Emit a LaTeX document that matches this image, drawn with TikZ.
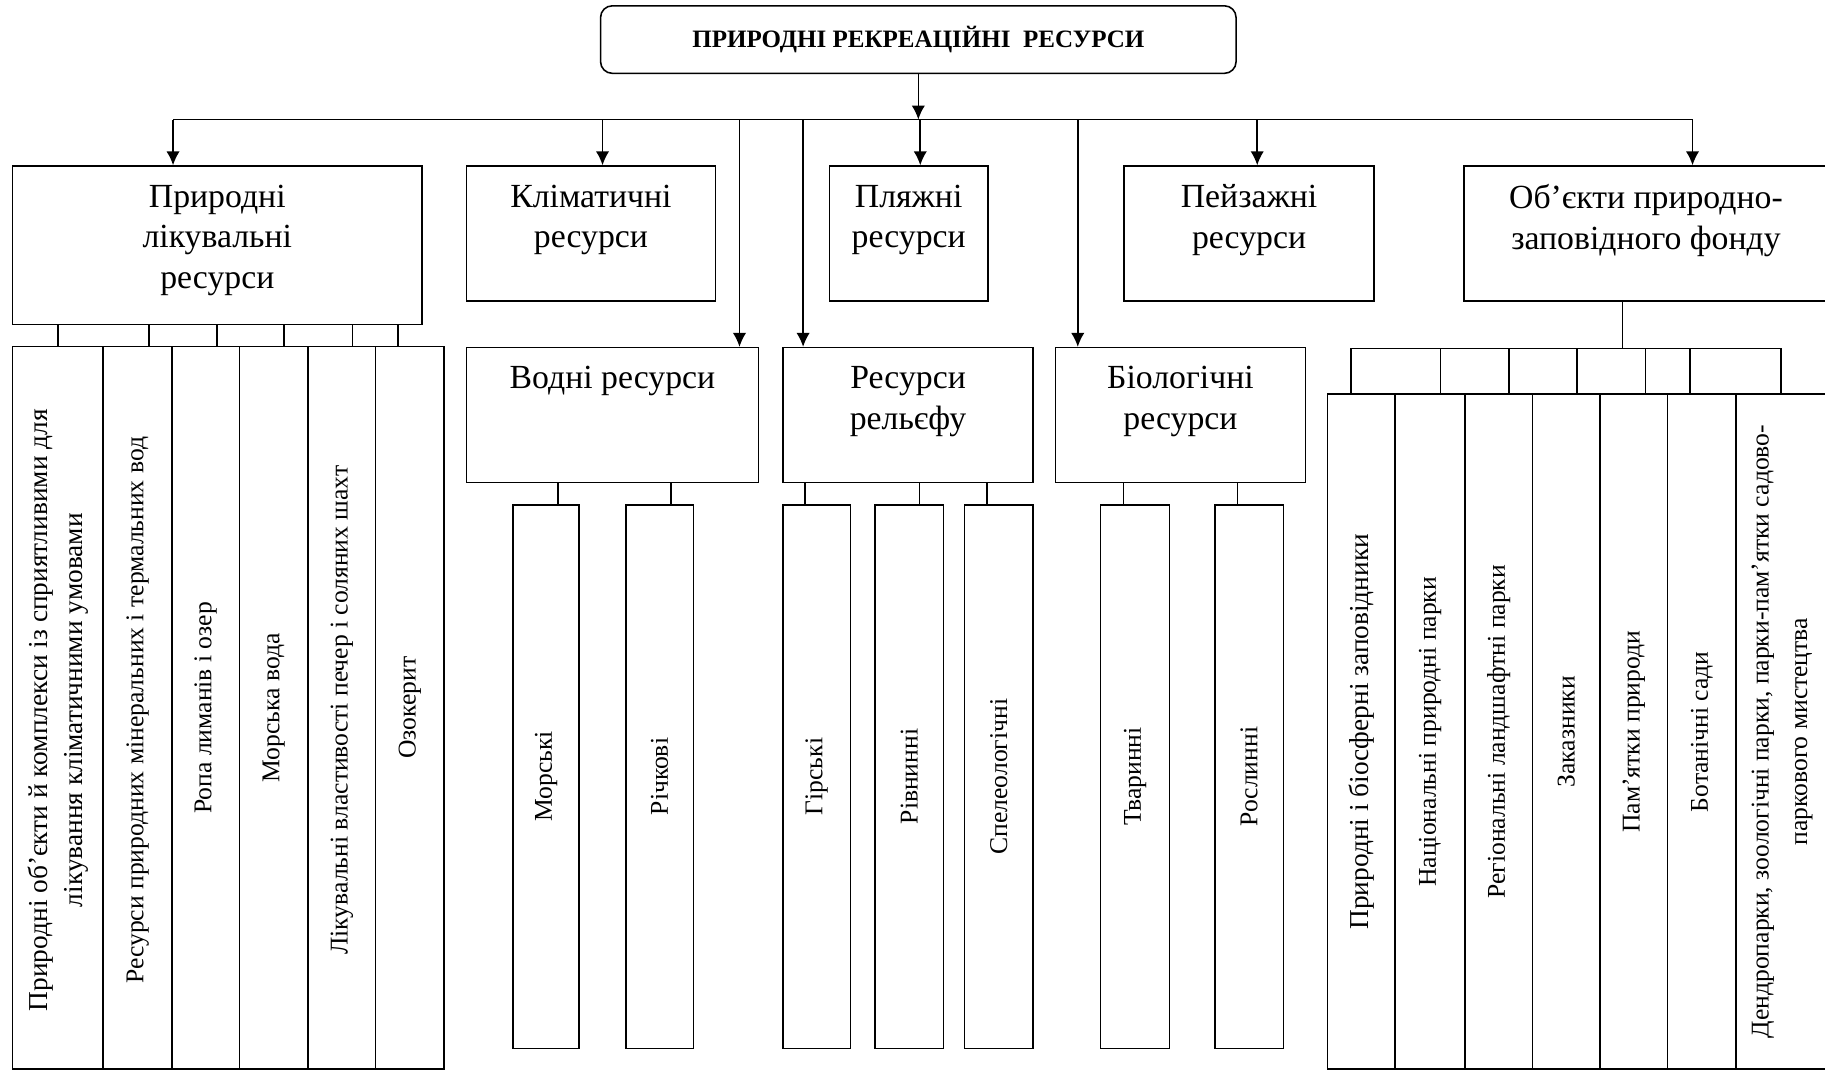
\documentclass[tikz,border=0pt]{standalone}
\usepackage{fontspec}
\setmainfont{Liberation Serif}
\usetikzlibrary{positioning,calc,arrows.meta}
\tikzset{
title/.style = {draw, rectangle, rounded corners=10pt, align=center, font=\fontsize{21.5}{25}\selectfont\bfseries},
block/.style = {draw, rectangle, anchor=north west, inner sep=0pt},
btext/.style = {anchor=north, align=center, inner sep=0pt, font=\fontsize{29}{35}\selectfont},
col/.style = {draw, rectangle, anchor=north west, inner sep=0pt},
vtext/.style = {rotate=90, align=center, inner sep=0pt, font=\fontsize{22}{30}\selectfont},
vbig/.style = {vtext, font=\fontsize{23.5}{30}\selectfont}
}

\begin{document}
\begin{tikzpicture}[x=1pt, y=-1pt, line width=1.35pt, >={Latex[length=12pt,width=11.5pt]}]
    \useasboundingbox (0,0) rectangle (1568,921);

    \node [title, minimum width=546pt, minimum height=58pt] (top) at (789,34) {ПРИРОДНІ РЕКРЕАЦІЙНІ\ \ РЕСУРСИ};
    \coordinate (hub) at ([yshift=-39pt]top.south);

    % first row
    \node [block, minimum width=352pt, minimum height=136pt] (nat) at (10,142) {};
    \node [block, minimum width=214pt, minimum height=116pt] (klim) at (400,142) {};
    \node [block, minimum width=136pt, minimum height=116pt] (plyazh) at (712,142) {};
    \node [block, minimum width=215pt, minimum height=116pt] (peyz) at (965,142) {};
    \node [block, minimum width=313pt, minimum height=116pt] (zapov) at (1257,142) {};
    \node [btext] (natT) at ([yshift=-16pt]nat.north) {Природні\\лікувальні\\ресурси};
    \node [btext] (klimT) at ([yshift=-16pt]klim.north) {Кліматичні\\ресурси};
    \node [btext] (plyazhT) at ([yshift=-16pt]plyazh.north) {Пляжні\\ресурси};
    \node [btext] (peyzT) at ([yshift=-16pt]peyz.north) {Пейзажні\\ресурси};
    \node [btext] (zapovT) at ([yshift=-16pt]zapov.north) {Об’єкти природно-\\заповідного фонду};

    % second row
    \node [block, minimum width=251pt, minimum height=116pt] (vodni) at (400,298) {};
    \node [block, minimum width=215pt, minimum height=116pt] (relief) at (672,298) {};
    \node [block, minimum width=215pt, minimum height=116pt] (bio) at (906,298) {};
    \node [btext] (vodniT) at ([yshift=-16pt]vodni.north) {Водні ресурси};
    \node [btext] (reliefT) at ([yshift=-16pt]relief.north) {Ресурси\\рельєфу};
    \node [btext] (bioT) at ([yshift=-16pt]bio.north) {Біологічні\\ресурси};

    % arrows from the top
    \draw[->] (top.south) -- (hub);
    \coordinate (d1) at ([xshift=-38pt]nat.north);
    \coordinate (d2) at ([xshift=10pt]klim.north);
    \coordinate (d3) at ([xshift=-17pt]vodni.north east);
    \coordinate (d4) at ([xshift=18pt]relief.north west);
    \coordinate (d5) at ([xshift=10pt]plyazh.north);
    \coordinate (d6) at ([xshift=20pt]bio.north west);
    \coordinate (d7) at ([xshift=7pt]peyz.north);
    \coordinate (d8) at ([xshift=40pt]zapov.north);
    \draw (d1 |- hub) -- (d8 |- hub);
    \draw[->] (d1 |- hub) -- (d1);
    \draw[->] (d2 |- hub) -- (d2);
    \draw[->] (d3 |- hub) -- (d3);
    \draw[->] (d4 |- hub) -- (d4);
    \draw[->] (d5 |- hub) -- (d5);
    \draw[->] (d6 |- hub) -- (d6);
    \draw[->] (d7 |- hub) -- (d7);
    \draw[->] (d8 |- hub) -- (d8);

    % healing resources
    \node [col, minimum width=78pt, minimum height=621pt] (nat1) at (10,297) {};
    \node [col, minimum width=59pt, minimum height=621pt] (nat2) at (88,297) {};
    \node [col, minimum width=58pt, minimum height=621pt] (nat3) at (147,297) {};
    \node [col, minimum width=59pt, minimum height=621pt] (nat4) at (205,297) {};
    \node [col, minimum width=58pt, minimum height=621pt] (nat5) at (264,297) {};
    \node [col, minimum width=59pt, minimum height=621pt] (nat6) at (322,297) {};
    \node [vbig] (nat1T) at ([yshift=-2pt]nat1.center) {Природні об’єкти й комплекси із сприятливими для\\лікування кліматичними умовами};
    \node [vtext] (nat2T) at ([yshift=-2pt]nat2.center) {Ресурси природних мінеральних і термальних вод};
    \node [vtext] (nat3T) at (nat3.center) {Ропа лиманів і озер};
    \node [vtext] (nat4T) at (nat4.center) {Морська вода};
    \node [vtext] (nat5T) at ([yshift=-2pt]nat5.center) {Лікувальні властивості печер і соляних шахт};
    \node [vtext] (nat6T) at (nat6.center) {Озокерит};
    \draw (nat1.north) -- (nat1.north |- nat.south);
    \draw ([xshift=10pt]nat2.north) coordinate (t2) -- (t2 |- nat.south);
    \draw ([xshift=10pt]nat3.north) coordinate (t3) -- (t3 |- nat.south);
    \draw ([xshift=9pt]nat4.north) coordinate (t4) -- (t4 |- nat.south);
    \draw ([xshift=9pt]nat5.north) coordinate (t5) -- (t5 |- nat.south);
    \draw ([xshift=-10pt]nat6.north) coordinate (t6) -- (t6 |- nat.south);

    % water, relief, biological
    \node [col, minimum width=57pt, minimum height=467pt] (mor) at (440,433) {};
    \node [col, minimum width=58pt, minimum height=467pt] (rich) at (537,433) {};
    \node [col, minimum width=58pt, minimum height=467pt] (gir) at (672,433) {};
    \node [col, minimum width=59pt, minimum height=467pt] (rivn) at (751,433) {};
    \node [col, minimum width=59pt, minimum height=467pt] (spel) at (828,433) {};
    \node [col, minimum width=59pt, minimum height=467pt] (tvar) at (945,433) {};
    \node [col, minimum width=59pt, minimum height=467pt] (rosl) at (1043,433) {};
    \node [vtext] (morT) at (mor.center) {Морські};
    \node [vtext] (richT) at (rich.center) {Річкові};
    \node [vtext] (girT) at (gir.center) {Гірські};
    \node [vtext] (rivnT) at (rivn.center) {Рівнинні};
    \node [vtext] (spelT) at (spel.center) {Спелеологічні};
    \node [vtext] (tvarT) at (tvar.center) {Тваринні};
    \node [vtext] (roslT) at (rosl.center) {Рослинні};
    \draw ([xshift=10pt]mor.north) coordinate (w1) -- (w1 |- vodni.south);
    \draw ([xshift=10pt]rich.north) coordinate (w2) -- (w2 |- vodni.south);
    \draw ([xshift=-10pt]gir.north) coordinate (g1) -- (g1 |- relief.south);
    \draw ([xshift=9pt]rivn.north) coordinate (g2) -- (g2 |- relief.south);
    \draw ([xshift=-10pt]spel.north) coordinate (g3) -- (g3 |- relief.south);
    \draw ([xshift=-10pt]tvar.north) coordinate (b1) -- (b1 |- bio.south);
    \draw ([xshift=-10pt]rosl.north) coordinate (b2) -- (b2 |- bio.south);

    % nature reserve fund
    \node [col, minimum width=58pt, minimum height=580pt] (zap1) at (1140,338) {};
    \node [col, minimum width=60pt, minimum height=580pt] (zap2) at (1198,338) {};
    \node [col, minimum width=58pt, minimum height=580pt] (zap3) at (1258,338) {};
    \node [col, minimum width=58pt, minimum height=580pt] (zap4) at (1316,338) {};
    \node [col, minimum width=58pt, minimum height=580pt] (zap5) at (1374,338) {};
    \node [col, minimum width=59pt, minimum height=580pt] (zap6) at (1432,338) {};
    \node [col, minimum width=79pt, minimum height=580pt] (zap7) at (1491,338) {};
    \node [vbig] (zap1T) at (zap1.center) {Природні і біосферні заповідники};
    \node [vtext] (zap2T) at (zap2.center) {Національні природні парки};
    \node [vtext] (zap3T) at (zap3.center) {Регіональні ландшафтні парки};
    \node [vtext] (zap4T) at (zap4.center) {Заказники};
    \node [vtext] (zap5T) at (zap5.center) {Пам’ятки природи};
    \node [vtext] (zap6T) at (zap6.center) {Ботанічні сади};
    \node [vtext, font=\fontsize{22}{33}\selectfont] (zap7T) at (zap7.center) {Дендропарки, зоологічні парки, парки-пам’ятки садово-\\паркового мистецтва};
    \coordinate (rbus) at ([yshift=-40pt]zapov.south);
    \draw ([xshift=-20pt]zapov.south) coordinate (s) -- (s |- rbus);
    \path ([xshift=-9pt]zap1.north) coordinate (r1);
    \path ([xshift=9pt]zap2.north) coordinate (r2);
    \path ([xshift=9pt]zap3.north) coordinate (r3);
    \path ([xshift=9pt]zap4.north) coordinate (r4);
    \path ([xshift=10pt]zap5.north) coordinate (r5);
    \path ([xshift=-10pt]zap6.north) coordinate (r6);
    \path ([xshift=-1pt]zap7.north) coordinate (r7);
    \draw (r1 |- rbus) -- (r7 |- rbus);
    \draw (r1) -- (r1 |- rbus);
    \draw (r2) -- (r2 |- rbus);
    \draw (r3) -- (r3 |- rbus);
    \draw (r4) -- (r4 |- rbus);
    \draw (r5) -- (r5 |- rbus);
    \draw (r6) -- (r6 |- rbus);
    \draw (r7) -- (r7 |- rbus);

\end{tikzpicture}
\end{document}
